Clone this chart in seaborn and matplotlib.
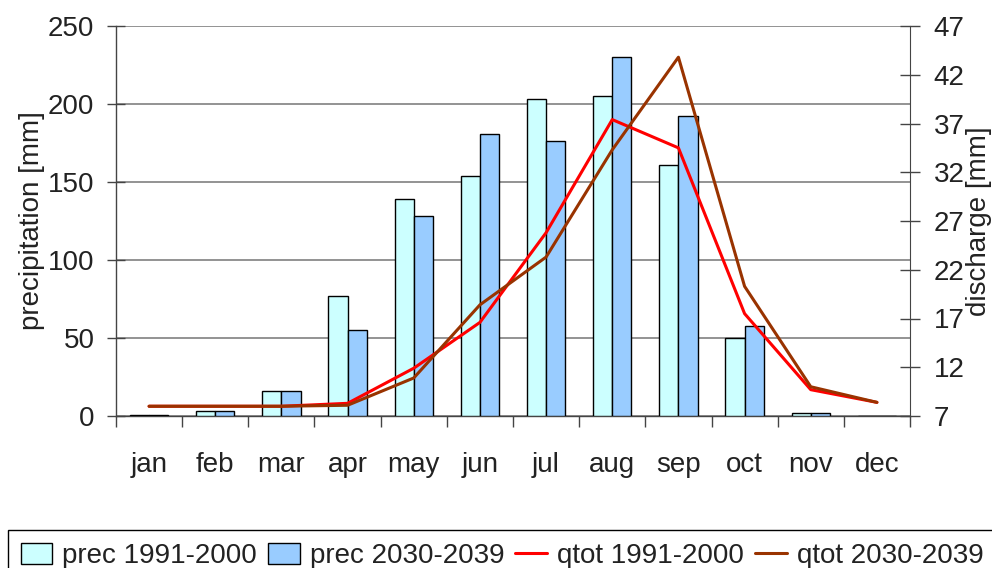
import numpy as np
import pandas as pd
import seaborn as sns
import matplotlib
matplotlib.use('Agg')
import matplotlib.pyplot as plt

months = ['jan', 'feb', 'mar', 'apr', 'may', 'jun', 'jul', 'aug', 'sep', 'oct', 'nov', 'dec']
prec_1991 = [0.5, 3, 16, 77, 139, 154, 203, 205, 161, 50, 2, 0]
prec_2030 = [0.5, 3, 16, 55, 128, 181, 176, 230, 192, 58, 2, 0]
qtot_1991 = [8.0, 8.0, 8.0, 8.3, 11.9, 16.6, 25.8, 37.4, 34.5, 17.5, 9.7, 8.4]
qtot_2030 = [8.0, 8.0, 8.0, 8.1, 10.9, 18.4, 23.3, 34.3, 43.8, 20.3, 10.0, 8.4]

prec = pd.DataFrame({
    'month': months * 2,
    'value': prec_1991 + prec_2030,
    'series': ['prec 1991-2000'] * 12 + ['prec 2030-2039'] * 12,
})
qtot = pd.DataFrame({
    'month': months * 2,
    'value': qtot_1991 + qtot_2030,
    'series': ['qtot 1991-2000'] * 12 + ['qtot 2030-2039'] * 12,
})

sns.set_style('white')
plt.rcParams['font.family'] = ['Liberation Sans', 'DejaVu Sans']
plt.rcParams['text.color'] = '#222222'
plt.rcParams['axes.labelcolor'] = '#222222'
plt.rcParams['xtick.color'] = '#222222'
plt.rcParams['ytick.color'] = '#222222'
fs = 20

fig = plt.figure(figsize=(9.92, 5.68), dpi=100)
ax = fig.add_axes([116 / 992, 1 - 416 / 568, 794 / 992, 390 / 568])

sns.barplot(data=prec, x='month', y='value', hue='series',
            palette=['#ccffff', '#99ccff'], saturation=1, width=0.58, gap=0,
            edgecolor='black', linewidth=1, ax=ax, zorder=3)
ax.set_ylim(0, 250)
ax.set_yticks(range(0, 251, 50))
ax.yaxis.grid(True, color='#808080', linewidth=1.2, zorder=0)
ax.set_axisbelow(True)
ax.set_xlim(-0.5, 11.5)
ax.set_xlabel('')
ax.set_ylabel('precipitation [mm]', fontsize=fs, labelpad=2)
ax.tick_params(axis='y', length=13, width=1, direction='inout', labelsize=fs, pad=9,
               left=True, color='#444444')
ax.set_xticks(range(12))
ax.set_xticklabels(months)
ax.set_xticks(np.arange(-0.5, 12, 1), minor=True)
ax.tick_params(axis='x', which='major', length=0, labelsize=fs, pad=26)
ax.tick_params(axis='x', which='minor', length=8, width=1, direction='out',
               bottom=True, color='#444444')
for s in ['top', 'right']:
    ax.spines[s].set_visible(False)
for s in ['left', 'bottom']:
    ax.spines[s].set_color('#444444')
    ax.spines[s].set_linewidth(1)

ax2 = ax.twinx()
sns.lineplot(data=qtot, x='month', y='value', hue='series',
             palette=['#ff0000', '#993300'], estimator=None, sort=False,
             linewidth=2.2, ax=ax2)
ax2.set_ylim(7, 47)
ax2.set_yticks(range(7, 48, 5))
ax2.set_xlim(-0.5, 11.5)
ax2.set_ylabel('discharge [mm]', fontsize=fs, labelpad=1)
ax2.tick_params(axis='y', length=14, width=1, direction='inout', labelsize=fs, pad=10,
                right=True, color='#444444')
for s in ['top', 'left', 'bottom']:
    ax2.spines[s].set_visible(False)
ax2.spines['right'].set_color('#444444')

h1, l1 = ax.get_legend_handles_labels()
h2, l2 = ax2.get_legend_handles_labels()
ax.get_legend().remove()
ax2.get_legend().remove()
leg = fig.legend(h1 + h2, l1 + l2, ncol=4, loc='upper left',
                 bbox_to_anchor=(8 / 992, 1 - 530 / 568), fontsize=fs,
                 frameon=True, fancybox=False, edgecolor='black', framealpha=1,
                 handlelength=1.15, handleheight=0.8, handletextpad=0.35,
                 columnspacing=0.4, borderpad=0.45, borderaxespad=0)
leg.get_frame().set_linewidth(1)

fig.savefig('out.png', dpi=100)
